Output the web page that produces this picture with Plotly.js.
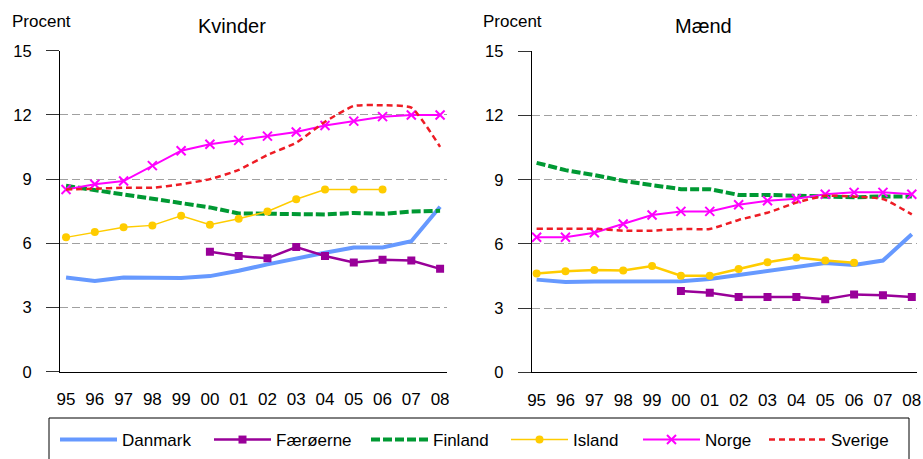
<!DOCTYPE html>
<html>
<head>
<meta charset="utf-8">
<script src="https://cdn.plot.ly/plotly-3.0.1.min.js"></script>
<style>html,body{margin:0;padding:0;background:#fff;}#chart{width:923px;height:459px;}</style>
</head>
<body>
<div id="chart"></div>
<script>
const years = ['95','96','97','98','99','00','01','02','03','04','05','06','07','08'];
const seriesNames = ['Danmark','Færøerne','Finland','Island','Norge','Sverige'];

// Kvinder
const kDanmark  = [4.41,4.24,4.41,4.40,4.38,4.47,4.72,5.02,5.30,5.56,5.81,5.81,6.10,7.71];
const kFaeroerne= [null,null,null,null,null,5.61,5.41,5.30,5.83,5.41,5.11,5.23,5.20,4.81];
const kFinland  = [8.69,8.49,8.30,8.08,7.87,7.68,7.40,7.37,7.38,7.35,7.42,7.38,7.49,7.52];
const kIsland   = [6.28,6.53,6.75,6.84,7.29,6.87,7.15,7.49,8.06,8.52,8.52,8.52,null,null];
const kNorge    = [8.52,8.76,8.91,9.63,10.33,10.63,10.81,11.01,11.20,11.51,11.71,11.92,12.0,12.0];
const kSverige  = [8.52,8.55,8.60,8.60,8.76,9.00,9.43,10.13,10.70,11.68,12.42,12.45,12.34,10.51];

// Mænd
const mDanmark  = [4.33,4.22,4.24,4.24,4.22,4.25,4.36,4.55,4.73,4.94,5.11,5.01,5.22,6.45];
const mFaeroerne= [null,null,null,null,null,3.80,3.72,3.52,3.52,3.52,3.41,3.64,3.60,3.52];
const mFinland  = [9.79,9.45,9.22,8.95,8.75,8.56,8.56,8.29,8.29,8.26,8.25,8.18,8.22,8.22];
const mIsland   = [4.62,4.72,4.78,4.76,4.97,4.51,4.51,4.83,5.14,5.36,5.22,5.12,null,null];
const mNorge    = [6.31,6.31,6.52,6.93,7.35,7.52,7.52,7.83,8.02,8.11,8.32,8.41,8.41,8.32];
const mSverige  = [6.71,6.71,6.71,6.62,6.62,6.70,6.70,7.12,7.46,7.93,8.25,8.21,8.10,7.38];

const yTicks = [0,3,6,9,12,15];

const FONT = 'Arial, "Liberation Sans", sans-serif';
const legendWidths = [82,85,68,60,54,60];
const styles = [
  {line:{color:'#6699FF', width:4}, mode:'lines'},
  {line:{color:'#990099', width:2.5}, mode:'lines+markers', marker:{symbol:'square', size:8, color:'#990099'}},
  {line:{color:'#009933', width:4, dash:'9px,3px'}, mode:'lines'},
  {line:{color:'#FFCC00', width:1.5}, mode:'lines+markers', marker:{symbol:'circle', size:8, color:'#FFCC00'}},
  {line:{color:'#FF00FF', width:2}, mode:'lines+markers', marker:{symbol:'x-thin', size:9, color:'#FF00FF', line:{width:2, color:'#FF00FF'}}},
  {line:{color:'#EE1C25', width:2.5, dash:'6px,4px', shape:'spline', smoothing:0.5}, mode:'lines'}
];
const kData = [kDanmark,kFaeroerne,kFinland,kIsland,kNorge,kSverige];
const mData = [mDanmark,mFaeroerne,mFinland,mIsland,mNorge,mSverige];

const traces = [];
kData.forEach((ys,i)=>{
  traces.push(Object.assign({type:'scatter', x:years, y:ys, name:seriesNames[i], xaxis:'x', yaxis:'y',
    connectgaps:false, showlegend:true, legendwidth:legendWidths[i]}, JSON.parse(JSON.stringify(styles[i]))));
});
mData.forEach((ys,i)=>{
  const st = JSON.parse(JSON.stringify(styles[i]));
  if (i===3) st.line.width = 2.5;
  traces.push(Object.assign({type:'scatter', x:years, y:ys, name:seriesNames[i], xaxis:'x2', yaxis:'y2', connectgaps:false, showlegend:false}, st));
});

function xax(domain, range){
  return {domain:domain, type:'category', range:range, showgrid:false, zeroline:false,
    showline:true, linecolor:'#000', linewidth:1, ticks:'', ticklabelstandoff:12,
    tickfont:{family:FONT, size:17, color:'#000'}, fixedrange:true};
}
function yax(domain, anchor){
  return {domain:domain, anchor:anchor, range:[0,15], tickvals:yTicks, ticktext:yTicks.map(String),
    showgrid:true, gridcolor:'#A0A0A0', griddash:'8px,4px', gridwidth:1, zeroline:false,
    showline:true, linecolor:'#000', linewidth:1, ticks:'outside', ticklen:13, tickcolor:'#333',
    ticklabelstandoff:11, tickfont:{family:FONT, size:16.5, color:'#000'}, fixedrange:true};
}

function label(text, px, py, size){
  return {text:text, x:px/923, y:1-py/459, xref:'paper', yref:'paper', xanchor:'center', yanchor:'middle',
    showarrow:false, font:{family:FONT, size:size, color:'#000'}};
}

const layout = {
  width:923, height:459,
  margin:{l:0, r:0, t:0, b:0},
  paper_bgcolor:'#fff', plot_bgcolor:'#fff',
  font:{family:FONT, color:'#000'},
  xaxis: Object.assign(xax([60/923, 447/923], [-0.21, 13.24]), {anchor:'y'}),
  yaxis: yax([0.190, 0.8895], 'x'),
  xaxis2: Object.assign(xax([531.7/923, 917/923], [-0.17, 13.18]), {anchor:'y2'}),
  yaxis2: yax([0.189, 0.888], 'x2'),
  showlegend:true,
  legend:{orientation:'h', x:55/923, y:(459-440)/459, xanchor:'left', yanchor:'middle',
    borderwidth:0, bgcolor:'rgba(0,0,0,0)', itemwidth:57,
    font:{family:FONT, size:17, color:'#000'}, traceorder:'normal'},
  shapes:[
    {type:'rect', xref:'paper', yref:'paper', x0:49/923, x1:909/923, y0:-0.01, y1:(459-418)/459,
     line:{color:'#000', width:1}, fillcolor:'rgba(0,0,0,0)', layer:'below'}
  ],
  annotations:[
    label('Kvinder', 232, 26, 20),
    label('Procent', 41, 22, 17),
    label('Mænd', 703, 26, 20),
    label('Procent', 512, 22, 17)
  ]
};

Plotly.newPlot('chart', traces, layout, {displayModeBar:false, staticPlot:true});
</script>
</body>
</html>
